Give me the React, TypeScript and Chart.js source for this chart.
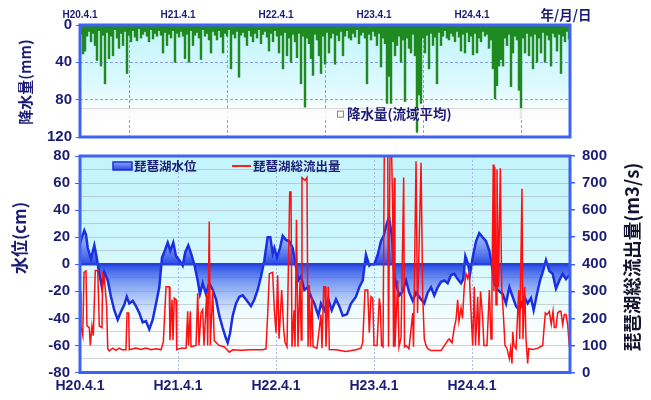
import React, { useEffect, useRef } from "react";
import { Chart, registerables } from "chart.js";
Chart.register(...registerables);

const SANS = "'Liberation Sans', Arial, sans-serif";
const CJK = "'Noto Sans CJK JP', 'Noto Sans', sans-serif";
const NAVY = "#1c1c74";
const FRAME = "#3d62f4";
const YEARS = 5;

// Fiscal-year start labels (x axis, years since H20.4.1)
const yearTicks = ["H20.4.1", "H21.4.1", "H22.4.1", "H23.4.1", "H24.4.1"];

// Basin-average rainfall (mm), one value per ~7.5-day bin from H20.4.1 to H25.3.31
const rainfall: number[] = [
  10, 31, 28, 12, 7, 18, 9, 22, 38, 6,
  44, 11, 63, 8, 36, 12, 33, 5, 14, 25,
  9, 22, 7, 52, 11, 18, 6, 13, 17, 4,
  14, 10, 7, 12, 18, 5, 15, 9, 12, 6,
  11, 30, 8, 22, 10, 14, 6, 40, 9, 13,
  7, 12, 36, 10, 40, 6, 22, 11, 8, 14,
  37, 5, 12, 9, 16, 30, 7, 11, 16, 6,
  13, 30, 9, 12, 5, 47, 10, 14, 7, 56,
  11, 8, 13, 22, 6, 12, 18, 9, 14, 5,
  20, 10, 7, 13, 28, 9, 18, 6, 12, 30,
  11, 47, 8, 33, 14, 40, 10, 18, 35, 9,
  63, 12, 88, 14, 20, 36, 54, 10, 16, 33,
  52, 12, 42, 8, 30, 14, 9, 42, 11, 17,
  7, 33, 12, 6, 14, 16, 9, 13, 5, 20,
  11, 8, 14, 63, 10, 16, 7, 12, 22, 9,
  45, 14, 20, 84, 55, 84, 18, 33, 22, 12,
  40, 16, 82, 14, 25, 30, 10, 33, 115, 75,
  84, 14, 30, 11, 47, 9, 22, 13, 63, 8,
  22, 12, 6, 14, 16, 9, 12, 18, 7, 13,
  28, 10, 30, 8, 18, 12, 32, 9, 30, 14,
  18, 7, 12, 10, 25, 16, 47, 79, 65, 44,
  37, 44, 14, 22, 10, 66, 30, 12, 16, 70,
  100, 14, 30, 9, 33, 12, 47, 10, 40, 14,
  30, 8, 40, 11, 16, 44, 9, 13, 28, 10,
  52, 12, 18, 7, 15,
];

// Lake Biwa water level (cm): time in years since H20.4.1
const levelT: number[] = [
  0, 0.02, 0.044, 0.061, 0.079, 0.112, 0.146, 0.17, 0.197, 0.224,
  0.248, 0.283, 0.316, 0.35, 0.385, 0.418, 0.452, 0.477, 0.503, 0.538,
  0.571, 0.605, 0.64, 0.673, 0.707, 0.742, 0.776, 0.809, 0.837, 0.86,
  0.895, 0.921, 0.952, 0.98, 1.013, 1.048, 1.074, 1.105, 1.133, 1.166,
  1.201, 1.224, 1.252, 1.286, 1.319, 1.354, 1.388, 1.421, 1.456, 1.49,
  1.507, 1.531, 1.558, 1.592, 1.626, 1.66, 1.694, 1.745, 1.779, 1.813,
  1.847, 1.881, 1.915, 1.942, 1.966, 1.983, 2.01, 2.041, 2.068, 2.102,
  2.136, 2.17, 2.204, 2.228, 2.255, 2.289, 2.323, 2.357, 2.391, 2.432,
  2.459, 2.493, 2.534, 2.568, 2.612, 2.646, 2.681, 2.724, 2.765, 2.816,
  2.85, 2.885, 2.918, 2.952, 2.969, 3.003, 3.038, 3.071, 3.099, 3.122,
  3.153, 3.184, 3.204, 3.224, 3.258, 3.293, 3.327, 3.36, 3.395, 3.429,
  3.469, 3.513, 3.547, 3.582, 3.615, 3.65, 3.684, 3.718, 3.752, 3.786,
  3.819, 3.854, 3.888, 3.911, 3.932, 3.956, 3.98, 4.007, 4.041, 4.074,
  4.109, 4.143, 4.177, 4.201, 4.228, 4.262, 4.313, 4.347, 4.381, 4.415,
  4.449, 4.483, 4.534, 4.568, 4.602, 4.629, 4.663, 4.694, 4.721, 4.755,
  4.789, 4.823, 4.857, 4.891, 4.925, 4.959, 4.993,
];
const levelCm: number[] = [
  15, 20, 25, 22, 12, 4, 14, 5, -7, -17,
  -6, -12, -24, -34, -41, -35, -30, -24, -29, -27,
  -31, -36, -43, -42, -48, -41, -29, -17, 5, 9,
  16, 10, 16, 6, 3, -1, 9, 14, 8, 0,
  -12, -22, -14, -22, -14, -19, -26, -38, -47, -55,
  -58, -51, -38, -29, -24, -23, -26, -31, -26, -19,
  -9, 3, 20, 20, 8, 12, 5, 12, 21, 18,
  17, 12, -2, -12, -9, -19, -17, -24, -29, -38,
  -29, -34, -26, -34, -26, -31, -38, -37, -29, -24,
  -17, -12, 7, -1, 0, 0, 7, 17, 21, 28,
  35, 20, -5, -15, -23, -20, -12, -21, -27, -21,
  -25, -29, -21, -17, -23, -17, -13, -12, -14, -8,
  -7, -11, -14, -11, 6, 1, -7, 5, 17, 23,
  20, 17, 10, 0, -14, -19, -22, -29, -17, -24,
  -31, -34, -24, -29, -25, -34, -22, -12, -6, 3,
  -5, -7, -18, -12, -7, -11, -8,
];

// Total outflow of Lake Biwa (m3/s): [years since H20.4.1, m3/s]
const outflow: [number, number][] = [
  [0, 300], [0.01, 170], [0.028, 136], [0.041, 370], [0.061, 375], [0.071, 172], [0.095, 166], [0.105, 100],
  [0.122, 172], [0.136, 136], [0.156, 377], [0.181, 377], [0.197, 172], [0.224, 166], [0.232, 365], [0.248, 353],
  [0.272, 244], [0.283, 88], [0.299, 80], [0.334, 90], [0.367, 82], [0.398, 90], [0.429, 84], [0.469, 84],
  [0.48, 220], [0.497, 220], [0.503, 84], [0.571, 90], [0.622, 85], [0.673, 90], [0.724, 84], [0.776, 88],
  [0.827, 84], [0.85, 112], [0.878, 317], [0.911, 317], [0.918, 119], [0.939, 269], [0.949, 119], [0.962, 275],
  [0.98, 269], [0.987, 84], [1.031, 90], [1.082, 90], [1.099, 226], [1.107, 100], [1.126, 226], [1.133, 95],
  [1.184, 100], [1.201, 293], [1.214, 100], [1.235, 220], [1.252, 232], [1.265, 100], [1.293, 293], [1.303, 100],
  [1.319, 558], [1.33, 100], [1.354, 305], [1.37, 118], [1.418, 100], [1.469, 95], [1.5, 85], [1.523, 75],
  [1.561, 84], [1.643, 82], [1.745, 84], [1.867, 84], [1.898, 88], [1.915, 214], [1.932, 365], [1.966, 370],
  [1.983, 232], [2.0, 147], [2.017, 359], [2.031, 125], [2.058, 305], [2.079, 156], [2.092, 112], [2.112, 95],
  [2.14, 667], [2.153, 667], [2.163, 95], [2.184, 230], [2.194, 95], [2.209, 564], [2.224, 95], [2.245, 340],
  [2.258, 120], [2.265, 720], [2.296, 710], [2.316, 721], [2.327, 95], [2.34, 323], [2.352, 95], [2.367, 280],
  [2.378, 95], [2.418, 90], [2.459, 214], [2.469, 90], [2.487, 317], [2.5, 317], [2.51, 95], [2.534, 317],
  [2.544, 85], [2.612, 84], [2.714, 78], [2.816, 84], [2.867, 90], [2.885, 112], [2.908, 305], [2.936, 305],
  [2.952, 147], [2.969, 280], [2.987, 274], [3.0, 100], [3.031, 100], [3.054, 274], [3.064, 244], [3.077, 100],
  [3.092, 95], [3.105, 820], [3.14, 820], [3.148, 95], [3.163, 820], [3.179, 820], [3.191, 600], [3.199, 95],
  [3.207, 720], [3.214, 95], [3.242, 341], [3.255, 95], [3.276, 130], [3.303, 721], [3.311, 95], [3.327, 100],
  [3.357, 88], [3.395, 220], [3.403, 95], [3.429, 781], [3.444, 220], [3.462, 498], [3.48, 775], [3.497, 286],
  [3.513, 124], [3.531, 100], [3.548, 88], [3.582, 81], [3.684, 81], [3.752, 118], [3.768, 124], [3.796, 110],
  [3.819, 166], [3.837, 196], [3.854, 269], [3.867, 190], [3.888, 238], [3.903, 200], [3.921, 317], [3.939, 365],
  [3.956, 348], [3.972, 371], [3.985, 260], [4.007, 100], [4.023, 317], [4.036, 100], [4.058, 280], [4.071, 100],
  [4.087, 300], [4.109, 200], [4.122, 100], [4.153, 100], [4.177, 305], [4.194, 124], [4.204, 317], [4.217, 769],
  [4.224, 300], [4.232, 760], [4.245, 250], [4.255, 750], [4.27, 317], [4.289, 755], [4.303, 317], [4.319, 220],
  [4.337, 100], [4.357, 88], [4.381, 51], [4.393, 88], [4.408, 33], [4.415, 150], [4.429, 100], [4.449, 88],
  [4.477, 305], [4.487, 124], [4.51, 679], [4.52, 124], [4.538, 317], [4.551, 124], [4.568, 33], [4.579, 88],
  [4.622, 85], [4.673, 90], [4.721, 100], [4.748, 220], [4.765, 214], [4.789, 226], [4.809, 178], [4.827, 226],
  [4.84, 166], [4.857, 166], [4.874, 220], [4.891, 226], [4.908, 226], [4.925, 178], [4.942, 214], [4.959, 214],
  [4.976, 178], [4.993, 100], [5.0, 95],
];

function vText(ctx: CanvasRenderingContext2D, text: string, x: number, y: number, font: string, color: string) {
  ctx.save();
  ctx.translate(x, y);
  ctx.rotate(-Math.PI / 2);
  ctx.font = font;
  ctx.fillStyle = color;
  ctx.textAlign = "center";
  ctx.textBaseline = "middle";
  ctx.fillText(text, 0, 0);
  ctx.restore();
}

function frame(chart: any) {
  const { ctx, chartArea: a } = chart;
  ctx.save();
  ctx.strokeStyle = FRAME;
  ctx.lineWidth = 3;
  ctx.strokeRect(a.left, a.top, a.right - a.left, a.bottom - a.top);
  ctx.restore();
}

const rainDecor = {
  id: "rainDecor",
  beforeDraw(chart: any) {
    const { ctx, chartArea: a } = chart;
    const g = ctx.createLinearGradient(0, a.top, 0, a.bottom);
    g.addColorStop(0, "#c2f4fc");
    g.addColorStop(0.55, "#dcfaff");
    g.addColorStop(0.72, "#f6feff");
    g.addColorStop(0.76, "#ffffff");
    g.addColorStop(1, "#ffffff");
    ctx.save();
    ctx.fillStyle = g;
    ctx.fillRect(a.left, a.top, a.right - a.left, a.bottom - a.top);
    ctx.restore();
  },
  afterDatasetsDraw(chart: any) {
    const { ctx, chartArea: a, scales } = chart;
    const y1 = scales.y.getPixelForValue(89);
    const y2 = scales.y.getPixelForValue(102);
    ctx.save();
    ctx.fillStyle = "rgba(252,252,252,0.88)";
    ctx.fillRect(a.left, y1, a.right - a.left, y2 - y1);
    ctx.strokeStyle = "rgba(190,190,190,0.6)";
    ctx.lineWidth = 1;
    ctx.beginPath();
    ctx.moveTo(a.left, y1 + 0.5);
    ctx.lineTo(a.right, y1 + 0.5);
    ctx.stroke();
    const ym = (y1 + y2) / 2;
    ctx.strokeStyle = "#888";
    ctx.strokeRect(337.5, ym - 3, 6, 6);
    ctx.font = `bold 13.5px ${CJK}`;
    ctx.fillStyle = NAVY;
    ctx.textBaseline = "middle";
    ctx.textAlign = "left";
    ctx.fillText("降水量(流域平均)", 347, ym);
    ctx.restore();
  },
  afterDraw(chart: any) {
    const { ctx } = chart;
    frame(chart);
    vText(ctx, "降水量(mm)", 25, 82, `bold 15px ${CJK}`, NAVY);
    ctx.save();
    ctx.font = `bold 13.5px ${CJK}`;
    ctx.fillStyle = NAVY;
    ctx.textAlign = "center";
    ctx.textBaseline = "middle";
    ctx.fillText("年/月/日", 566, 15);
    ctx.restore();
  },
};

function levelFill(ctx: any) {
  const chart = ctx.chart;
  const a = chart.chartArea;
  if (!a) return "rgba(40,70,225,0.6)";
  const ys = chart.scales.y;
  const f = (v: number) => Math.min(1, Math.max(0, (ys.getPixelForValue(v) - a.top) / (a.bottom - a.top)));
  const g = chart.ctx.createLinearGradient(0, a.top, 0, a.bottom);
  g.addColorStop(f(40), "rgba(150,170,245,0.45)");
  g.addColorStop(f(15), "rgba(95,125,238,0.7)");
  g.addColorStop(f(0), "rgba(30,65,228,0.95)");
  g.addColorStop(f(-12), "rgba(70,105,236,0.7)");
  g.addColorStop(f(-35), "rgba(150,175,250,0.3)");
  g.addColorStop(f(-60), "rgba(215,225,255,0.05)");
  return g;
}

const levelDecor = {
  id: "levelDecor",
  beforeDraw(chart: any) {
    const { ctx, chartArea: a, scales } = chart;
    const ys = scales.y;
    const f = (v: number) => Math.min(1, Math.max(0, (ys.getPixelForValue(v) - a.top) / (a.bottom - a.top)));
    const g = ctx.createLinearGradient(0, a.top, 0, a.bottom);
    g.addColorStop(0, "#c4f4fc");
    g.addColorStop(f(20), "#ccf6fd");
    g.addColorStop(f(-20), "#e4fbfe");
    g.addColorStop(f(-50), "#fbfeff");
    g.addColorStop(1, "#ffffff");
    ctx.save();
    ctx.fillStyle = g;
    ctx.fillRect(a.left, a.top, a.right - a.left, a.bottom - a.top);
    ctx.restore();
  },
  afterDraw(chart: any) {
    const { ctx } = chart;
    frame(chart);
    ctx.save();
    const ly = 26;
    const bg = ctx.createLinearGradient(0, ly - 4, 0, ly + 4);
    bg.addColorStop(0, "#8fa4f2");
    bg.addColorStop(1, "#2a48e0");
    ctx.fillStyle = bg;
    ctx.fillRect(113, ly - 4, 19, 8);
    ctx.strokeStyle = "#1a2ed8";
    ctx.lineWidth = 1.5;
    ctx.strokeRect(113, ly - 4, 19, 8);
    ctx.font = `bold 12.5px ${CJK}`;
    ctx.fillStyle = NAVY;
    ctx.textBaseline = "middle";
    ctx.textAlign = "left";
    ctx.fillText("琵琶湖水位", 134, ly);
    ctx.strokeStyle = "#ff2020";
    ctx.lineWidth = 2;
    ctx.beginPath();
    ctx.moveTo(232, ly);
    ctx.lineTo(251, ly);
    ctx.stroke();
    ctx.fillText("琵琶湖総流出量", 253, ly);
    ctx.restore();
    vText(ctx, "水位(cm)", 20, 98, `bold 17px ${CJK}`, NAVY);
    vText(ctx, "琵琶湖総流出量(m3/s)", 632, 117, `bold 18.5px ${CJK}`, "#141430");
  },
};

export default function App() {
  const topRef = useRef<HTMLCanvasElement>(null);
  const botRef = useRef<HTMLCanvasElement>(null);

  useEffect(() => {
    const tickFont = (size: number) => ({ family: SANS, size, weight: "bold" as const });
    const yearLabel = (v: any) => yearTicks[v as number] ?? "";

    const rainChart = new Chart(topRef.current!, {
      type: "bar",
      data: {
        datasets: [
          {
            data: rainfall.map((v, i) => ({ x: ((i + 0.5) * YEARS) / rainfall.length, y: v })),
            backgroundColor: "#1f8a1f",
            borderWidth: 0,
            barThickness: 1.8,
          } as any,
        ],
      },
      options: {
        responsive: false,
        animation: false,
        devicePixelRatio: 1,
        layout: { padding: { right: 81, bottom: 10, top: 0, left: 0 } },
        plugins: { legend: { display: false }, tooltip: { enabled: false } },
        scales: {
          x: {
            type: "linear",
            position: "top",
            min: 0,
            max: YEARS,
            offset: false,
            ticks: { stepSize: 1, autoSkip: false, maxRotation: 0, padding: 4, color: NAVY, font: tickFont(10), callback: yearLabel },
            grid: { color: "#86a0f2", lineWidth: 1, drawTicks: false },
            border: { display: false, dash: [3, 2] },
            afterFit: (s: any) => { s.height = 25; },
          },
          y: {
            reverse: true,
            min: 0,
            max: 120,
            ticks: { stepSize: 40, autoSkip: false, padding: 4, color: NAVY, font: tickFont(15) },
            grid: { color: "#86a0f2", lineWidth: 1, tickLength: 4, tickColor: FRAME },
            border: { display: false, dash: [3, 2] },
            afterFit: (s: any) => { s.width = 80; },
          },
        },
      } as any,
      plugins: [rainDecor],
    });

    const levelChart = new Chart(botRef.current!, {
      type: "line",
      data: {
        datasets: [
          {
            label: "琵琶湖総流出量",
            data: outflow.map(([t, q]) => ({ x: t, y: q })),
            yAxisID: "y2",
            borderColor: "#ff1010",
            borderWidth: 1.5,
            pointRadius: 0,
            fill: false,
            tension: 0,
            order: 0,
          },
          {
            label: "zero",
            data: [{ x: 0, y: 0 }, { x: YEARS, y: 0 }],
            yAxisID: "y",
            borderColor: "#2a40da",
            borderWidth: 2.5,
            pointRadius: 0,
            fill: false,
            order: 1,
          },
          {
            label: "琵琶湖水位",
            data: levelT.map((t, i) => ({ x: t, y: levelCm[i] })),
            yAxisID: "y",
            borderColor: "#1a2ee2",
            borderWidth: 2.5,
            pointRadius: 0,
            tension: 0,
            fill: { value: 0 },
            backgroundColor: levelFill,
            order: 2,
          },
        ],
      },
      options: {
        responsive: false,
        animation: false,
        devicePixelRatio: 1,
        layout: { padding: { top: 12, left: 0, right: 0, bottom: 0 } },
        plugins: { legend: { display: false }, tooltip: { enabled: false } },
        scales: {
          x: {
            type: "linear",
            min: 0,
            max: YEARS,
            ticks: { stepSize: 1, autoSkip: false, maxRotation: 0, padding: 5, color: NAVY, font: tickFont(14), callback: yearLabel },
            grid: { color: "#a6baf5", lineWidth: 1, drawTicks: false },
            border: { display: false, dash: [2, 2] },
            afterFit: (s: any) => { s.height = 27.5; },
          },
          y: {
            position: "left",
            min: -80,
            max: 80,
            ticks: {
              stepSize: 10,
              autoSkip: false,
              padding: 5,
              color: NAVY,
              font: tickFont(15),
              callback: (v: any) => (Number(v) % 20 === 0 ? String(v) : ""),
            },
            grid: {
              color: "rgba(150,150,150,0.42)",
              lineWidth: 1,
              tickLength: 5,
              tickColor: (c: any) => (c.tick && c.tick.value % 20 === 0 ? FRAME : "rgba(0,0,0,0)"),
            },
            border: { display: false },
            afterFit: (s: any) => { s.width = 80; },
          },
          y2: {
            position: "right",
            min: 0,
            max: 800,
            ticks: { stepSize: 100, autoSkip: false, padding: 7, color: NAVY, font: tickFont(15) },
            grid: { drawOnChartArea: false, tickLength: 5, tickColor: FRAME, lineWidth: 1.5 },
            border: { display: false },
            afterFit: (s: any) => { s.width = 81; },
          },
        },
      } as any,
      plugins: [levelDecor],
    });

    return () => {
      rainChart.destroy();
      levelChart.destroy();
    };
  }, []);

  return (
    <div style={{ position: "absolute", left: 0, top: 0, width: 651, height: 400, background: "#ffffff", overflow: "hidden" }}>
      <canvas ref={topRef} width={651} height={150} style={{ position: "absolute", left: 0, top: 0, width: 651, height: 150 }} />
      <canvas ref={botRef} width={651} height={260} style={{ position: "absolute", left: 0, top: 140, width: 651, height: 260 }} />
    </div>
  );
}
